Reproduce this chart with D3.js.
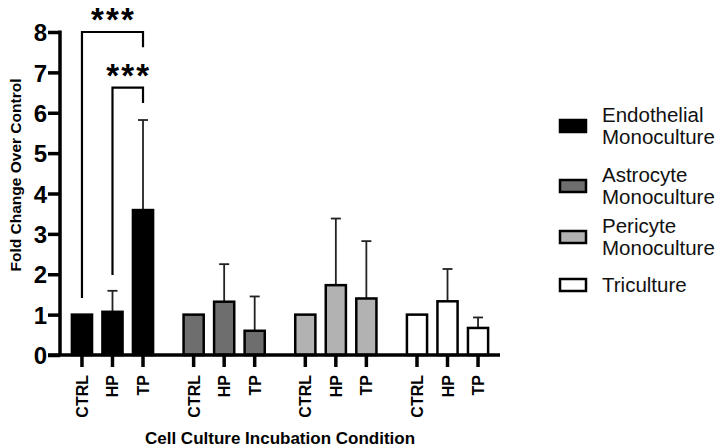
<!DOCTYPE html>
<html>
<head>
<meta charset="utf-8">
<script src="https://cdn.jsdelivr.net/npm/d3@7"></script>
<style>
  html, body { margin: 0; padding: 0; background: #fff; }
  svg { display: block; font-family: "Liberation Sans", Arial, sans-serif; }
</style>
</head>
<body>
<svg id="chart" width="723" height="448"></svg>
<script>
  const GROUPS = ['Endothelial Monoculture', 'Astrocyte Monoculture', 'Pericyte Monoculture', 'Triculture'];
  const CONDITIONS = ['CTRL', 'HP', 'TP'];
  const ENDOTHELIAL = [1.00, 1.07, 3.59];
  const ENDOTHELIAL_SD = [0, 0.52, 2.23];
  const ASTROCYTE = [1.00, 1.32, 0.60];
  const ASTROCYTE_SD = [0, 0.93, 0.85];
  const PERICYTE = [1.00, 1.73, 1.40];
  const PERICYTE_SD = [0, 1.65, 1.42];
  const TRICULTURE = [1.00, 1.33, 0.67];
  const TRICULTURE_SD = [0, 0.80, 0.26];
  const Y_TICKS = [0, 1, 2, 3, 4, 5, 6, 7, 8];
  // significance brackets within the endothelial group
  const COMPARISONS = [
    { from: 'CTRL', to: 'TP', top: 8.0, leftEnd: 1.41, rightEnd: 7.62, label: '***' },
    { from: 'HP', to: 'TP', top: 6.62, leftEnd: 1.98, rightEnd: 6.24, label: '***' }
  ];

  (function () {
    "use strict";
    const means = [ENDOTHELIAL, ASTROCYTE, PERICYTE, TRICULTURE];
    const sds = [ENDOTHELIAL_SD, ASTROCYTE_SD, PERICYTE_SD, TRICULTURE_SD];
    const fills = ['#000000', '#6e6e6e', '#b2b2b2', '#ffffff'];

    let svg = d3.select('#chart'),
      left = 60,
      right = 500,
      plotTop = 32,
      bottom = 355;

    let x0 = d3.scaleBand()
      .domain(GROUPS)
      .range([left, right])
      .paddingInner(0.18)
      .paddingOuter(0.06);

    let x1 = d3.scaleBand()
      .domain(CONDITIONS)
      .range([0, x0.bandwidth()])
      .paddingInner(0.34)
      .paddingOuter(0.17);

    let y = d3.scaleLinear()
      .domain([0, 8])
      .range([bottom, plotTop]);

    let rows = [];
    GROUPS.forEach(function (g, gi) {
      CONDITIONS.forEach(function (c, ci) {
        rows.push({ group: g, cond: c, gi: gi, value: means[gi][ci], sd: sds[gi][ci] });
      });
    });

    function cx(d) {
      return x0(d.group) + x1(d.cond) + x1.bandwidth() / 2;
    }

    /*
     * error bars (upper only)
     */
    let withErr = rows.filter(function (d) { return d.sd > 0; });
    let err = svg.append('g').attr('stroke', '#222').attr('stroke-width', 1.8);
    err.selectAll('line.stem')
      .data(withErr)
      .enter()
      .append('line')
      .attr('class', 'stem')
      .attr('x1', cx).attr('x2', cx)
      .attr('y1', function (d) { return y(d.value); })
      .attr('y2', function (d) { return y(d.value + d.sd); });
    err.selectAll('line.cap')
      .data(withErr)
      .enter()
      .append('line')
      .attr('class', 'cap')
      .attr('x1', function (d) { return cx(d) - 5; })
      .attr('x2', function (d) { return cx(d) + 5; })
      .attr('y1', function (d) { return y(d.value + d.sd); })
      .attr('y2', function (d) { return y(d.value + d.sd); });

    /*
     * bars
     */
    svg.append('g').selectAll('rect')
      .data(rows)
      .enter()
      .append('rect')
      .attr('x', function (d) { return x0(d.group) + x1(d.cond); })
      .attr('y', function (d) { return y(d.value); })
      .attr('width', x1.bandwidth())
      .attr('height', function (d) { return y(0) - y(d.value); })
      .attr('fill', function (d) { return fills[d.gi]; })
      .attr('stroke', '#000')
      .attr('stroke-width', 2.5);

    /*
     * y axis
     */
    let yAxis = svg.append('g')
      .attr('transform', 'translate(' + left + ',0)')
      .call(d3.axisLeft(y).tickValues(Y_TICKS).tickSize(12).tickSizeOuter(0).tickPadding(1));
    yAxis.select('.domain').attr('stroke-width', 3.5).attr('d', 'M0,' + (y(8) - 1.5) + 'V' + bottom);
    yAxis.selectAll('.tick line').attr('stroke-width', 3.5);
    yAxis.selectAll('.tick text')
      .attr('font-size', 24)
      .attr('font-weight', 'bold')
      .attr('fill', '#000')
      .attr('font-family', '"Liberation Sans", Arial, sans-serif')
      .attr('dy', '0.36em');

    /*
     * x axis
     */
    let xAxis = svg.append('g');
    xAxis.append('line')
      .attr('x1', left - 12).attr('x2', right)
      .attr('y1', bottom).attr('y2', bottom)
      .attr('stroke', '#000').attr('stroke-width', 3.5);
    xAxis.selectAll('line.tick')
      .data(rows)
      .enter()
      .append('line')
      .attr('class', 'tick')
      .attr('x1', cx).attr('x2', cx)
      .attr('y1', bottom).attr('y2', bottom + 12)
      .attr('stroke', '#000').attr('stroke-width', 3.5);
    xAxis.selectAll('text')
      .data(rows)
      .enter()
      .append('text')
      .text(function (d) { return d.cond; })
      .attr('transform', function (d) {
        return 'translate(' + (cx(d) + 6) + ',' + (bottom + 20) + ') rotate(-90)';
      })
      .attr('text-anchor', 'end')
      .attr('font-size', 16)
      .attr('font-weight', 'bold');

    /*
     * axis titles
     */
    svg.append('text')
      .text('Cell Culture Incubation Condition')
      .attr('x', 280)
      .attr('y', 444)
      .attr('text-anchor', 'middle')
      .attr('font-size', 17)
      .attr('font-weight', 'bold');
    svg.append('text')
      .text('Fold Change Over Control')
      .attr('transform', 'translate(21,175) rotate(-90)')
      .attr('text-anchor', 'middle')
      .attr('font-size', 15.5)
      .attr('font-weight', 'bold');

    /*
     * significance brackets
     */
    let g0 = GROUPS[0];
    function bx(c) {
      return x0(g0) + x1(c) + x1.bandwidth() / 2;
    }
    let brackets = svg.append('g');
    brackets.selectAll('path')
      .data(COMPARISONS)
      .enter()
      .append('path')
      .attr('d', function (d) {
        return 'M' + bx(d.from) + ',' + y(d.leftEnd) +
          'V' + y(d.top) + 'H' + bx(d.to) + 'V' + y(d.rightEnd);
      })
      .attr('fill', 'none')
      .attr('stroke', '#000')
      .attr('stroke-width', 2.2);
    COMPARISONS.forEach(function (d) {
      let mid = (bx(d.from) + bx(d.to)) / 2;
      [-15, 0, 15].forEach(function (off) {
        brackets.append('text')
          .text('*')
          .attr('x', mid + off)
          .attr('y', y(d.top) - 1)
          .attr('text-anchor', 'middle')
          .attr('font-size', 33)
          .attr('font-weight', 'bold');
      });
    });

    /*
     * legend
     */
    const legendY = [126, 186, 237, 285];
    let legend = svg.append('g');
    GROUPS.forEach(function (g, i) {
      let item = legend.append('g').attr('transform', 'translate(559,' + legendY[i] + ')');
      item.append('rect')
        .attr('x', 1).attr('y', -6)
        .attr('width', 26).attr('height', 12)
        .attr('fill', fills[i])
        .attr('stroke', '#000')
        .attr('stroke-width', 2.5);
      let words = g.split(' ');
      let t = item.append('text')
        .attr('x', 43)
        .attr('font-size', 20.5)
        .attr('fill', '#111');
      words.forEach(function (w, wi) {
        t.append('tspan')
          .attr('x', 43)
          .attr('y', words.length === 1 ? 7 : (wi === 0 ? -4 : 18))
          .text(w);
      });
    });
  }());
</script>
</body>
</html>
